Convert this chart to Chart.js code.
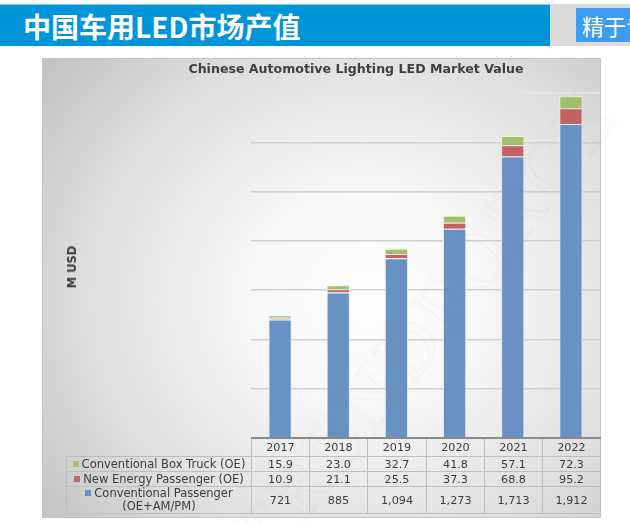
<!DOCTYPE html>
<html>
<head>
<meta charset="utf-8">
<script src="https://cdn.jsdelivr.net/npm/chart.js@4/dist/chart.umd.min.js"></script>
<style>
  html, body { margin:0; padding:0; background:#ffffff; width:630px; height:523px; overflow:hidden; position:relative; font-family:"DejaVu Sans", Verdana, sans-serif; }
  #hdr { position:absolute; left:0; top:4px; width:550px; height:42px; background:#0095d9; border-top:1px solid #7fd0f0; box-sizing:border-box; }
  #hdr span { position:absolute; left:23px; top:2px; font-family:"Noto Sans CJK SC", sans-serif; font-weight:700; font-size:28px; line-height:38px; color:#ffffff; white-space:nowrap; }
  #hdrR { position:absolute; left:550px; top:4px; width:80px; height:42px; background:#dadada; }
  #hdrBox { position:absolute; left:576px; top:8px; width:60px; height:34px; background:#3b9cf2; overflow:hidden; }
  #hdrBox span { position:absolute; left:6px; top:1px; font-family:"Noto Sans CJK SC", sans-serif; font-size:22px; line-height:32px; color:#ffffff; white-space:nowrap; }
  #frame { position:absolute; left:42px; top:58px; width:559px; height:460px; box-sizing:border-box; border:1px solid #c4c4c4;
    background: radial-gradient(ellipse 72% 80% at 58% 52%, #ffffff 0%, #f7f7f7 30%, #dedede 70%, #c4c4c4 100%); }
  #c { position:absolute; left:0; top:0; }
  #title { position:absolute; left:106px; top:61px; width:500px; text-align:center; font-weight:700; font-size:12.6px; color:#3f3f3f; white-space:nowrap; }
  #ylab { position:absolute; left:72px; top:267px; transform:translate(-50%,-50%) rotate(-90deg); font-weight:700; font-size:11.5px; color:#3a3a3a; white-space:nowrap; }
  .cell { position:absolute; box-sizing:border-box; border:1px solid #bdbdbd; display:flex; align-items:center; justify-content:center; text-align:center; color:#3c3c3c; font-size:11.2px; white-space:nowrap; line-height:13px; }
  .lab { font-size:11.5px; }
  .sq { display:inline-block; width:6px; height:6px; margin-right:3px; vertical-align:1px; }
  #base { position:absolute; height:2px; background:#8a8a8a; }
  #wm { position:absolute; left:250px; top:505px; transform:rotate(-52deg); transform-origin:left center; font-family:"Liberation Serif", serif; font-size:78px; letter-spacing:6px; color:transparent; -webkit-text-stroke:1.2px rgba(120,120,120,0.06); white-space:nowrap; pointer-events:none; }
</style>
</head>
<body>
<div id="hdr"><span>中国车用LED市场产值</span></div>
<div id="hdrR"></div>
<div id="hdrBox"><span>精于专业</span></div>
<div id="frame"></div>
<canvas id="c" width="630" height="523"></canvas>
<div id="title">Chinese Automotive Lighting LED Market Value</div>
<div id="ylab">M USD</div>
<div id="tbl"></div>
<div id="wm">TRENDFORCE</div>
<script>
// ---- data ----
const years = ['2017','2018','2019','2020','2021','2022'];
const boxTruck = [15.9, 23.0, 32.7, 41.8, 57.1, 72.3];
const newEnergy = [10.9, 21.1, 25.5, 37.3, 68.8, 95.2];
const convPassenger = [721, 885, 1094, 1273, 1713, 1912];
const seriesNames = ['Conventional Box Truck (OE)', 'New Energy Passenger (OE)', 'Conventional Passenger'];
const seriesSub = ['', '', '(OE+AM/PM)'];
const yMax = 2100;
const yStep = 300;

const colors = { blue:'#6892c3', red:'#c26262', green:'#a1bf6c' };

const chart = new Chart(document.getElementById('c'), {
  type: 'bar',
  data: {
    labels: years,
    datasets: [
      { label: seriesNames[2], data: convPassenger, backgroundColor: colors.blue, borderColor:'rgba(225,235,248,0.9)', borderWidth:1 },
      { label: seriesNames[1], data: newEnergy, backgroundColor: colors.red, borderColor:'rgba(250,225,225,0.9)', borderWidth:1 },
      { label: seriesNames[0], data: boxTruck, backgroundColor: colors.green, borderColor:'rgba(235,245,220,0.9)', borderWidth:1 }
    ]
  },
  options: {
    responsive: false,
    animation: false,
    devicePixelRatio: 1,
    layout: { padding: { left: 251, right: 30, top: 93, bottom: 85 } },
    plugins: { legend: { display:false }, title: { display:false }, tooltip: { enabled:false } },
    datasets: { bar: { barPercentage: 0.4, categoryPercentage: 1.0 } },
    scales: {
      x: { stacked:true, display:false },
      y: { stacked:true, min:0, max:yMax,
           ticks:{ display:false, stepSize:yStep },
           border:{ display:false },
           grid:{ drawTicks:false, lineWidth:1.5,
                  color: (c) => (c.tick && c.tick.value === yMax) ? '#e4e4e4' : '#d0d0d0' } }
    }
  }
});

// ---- data table aligned to the x scale ----
const tbl = document.getElementById('tbl');
const xs = chart.scales.x;
const area = chart.chartArea;
const half = (xs.getPixelForValue(1) - xs.getPixelForValue(0)) / 2;
const baseY = Math.round(area.bottom);
const rowsY = [baseY, baseY + 18, baseY + 33, baseY + 48, baseY + 75];
const labelLeft = 66;

function cell(x0, y0, x1, y1, html, cls) {
  const d = document.createElement('div');
  d.className = 'cell' + (cls ? ' ' + cls : '');
  d.style.left = x0 + 'px'; d.style.top = y0 + 'px';
  d.style.width = (x1 - x0 + 1) + 'px'; d.style.height = (y1 - y0 + 1) + 'px';
  d.innerHTML = html;
  tbl.appendChild(d);
}
const fmt1 = v => v.toFixed(1);
const fmt0 = v => v.toLocaleString('en-US');
const tableRows = [
  { vals: boxTruck, f: fmt1, col: colors.green, name: seriesNames[0], sub: seriesSub[0] },
  { vals: newEnergy, f: fmt1, col: colors.red, name: seriesNames[1], sub: seriesSub[1] },
  { vals: convPassenger, f: fmt0, col: colors.blue, name: seriesNames[2], sub: seriesSub[2] }
];
years.forEach((yr, i) => {
  const cx = xs.getPixelForValue(i);
  const x0 = Math.round(cx - half), x1 = Math.round(cx + half);
  cell(x0, rowsY[0], x1, rowsY[1], yr);
  tableRows.forEach((r, k) => cell(x0, rowsY[k + 1], x1, rowsY[k + 2], r.f(r.vals[i])));
});
const lx1 = Math.round(xs.getPixelForValue(0) - half);
tableRows.forEach((r, k) => {
  const sq = '<span class="sq" style="background:' + r.col + '"></span>';
  const html = r.sub ? '<div>' + sq + r.name + '<br>' + r.sub + '</div>' : sq + r.name;
  cell(labelLeft, rowsY[k + 1], lx1, rowsY[k + 2], html, 'lab');
});
const base = document.createElement('div');
base.id = 'base';
base.style.left = Math.round(area.left) + 'px';
base.style.width = Math.round(area.right - area.left + 1) + 'px';
base.style.top = (baseY - 1) + 'px';
tbl.appendChild(base);
</script>
</body>
</html>
